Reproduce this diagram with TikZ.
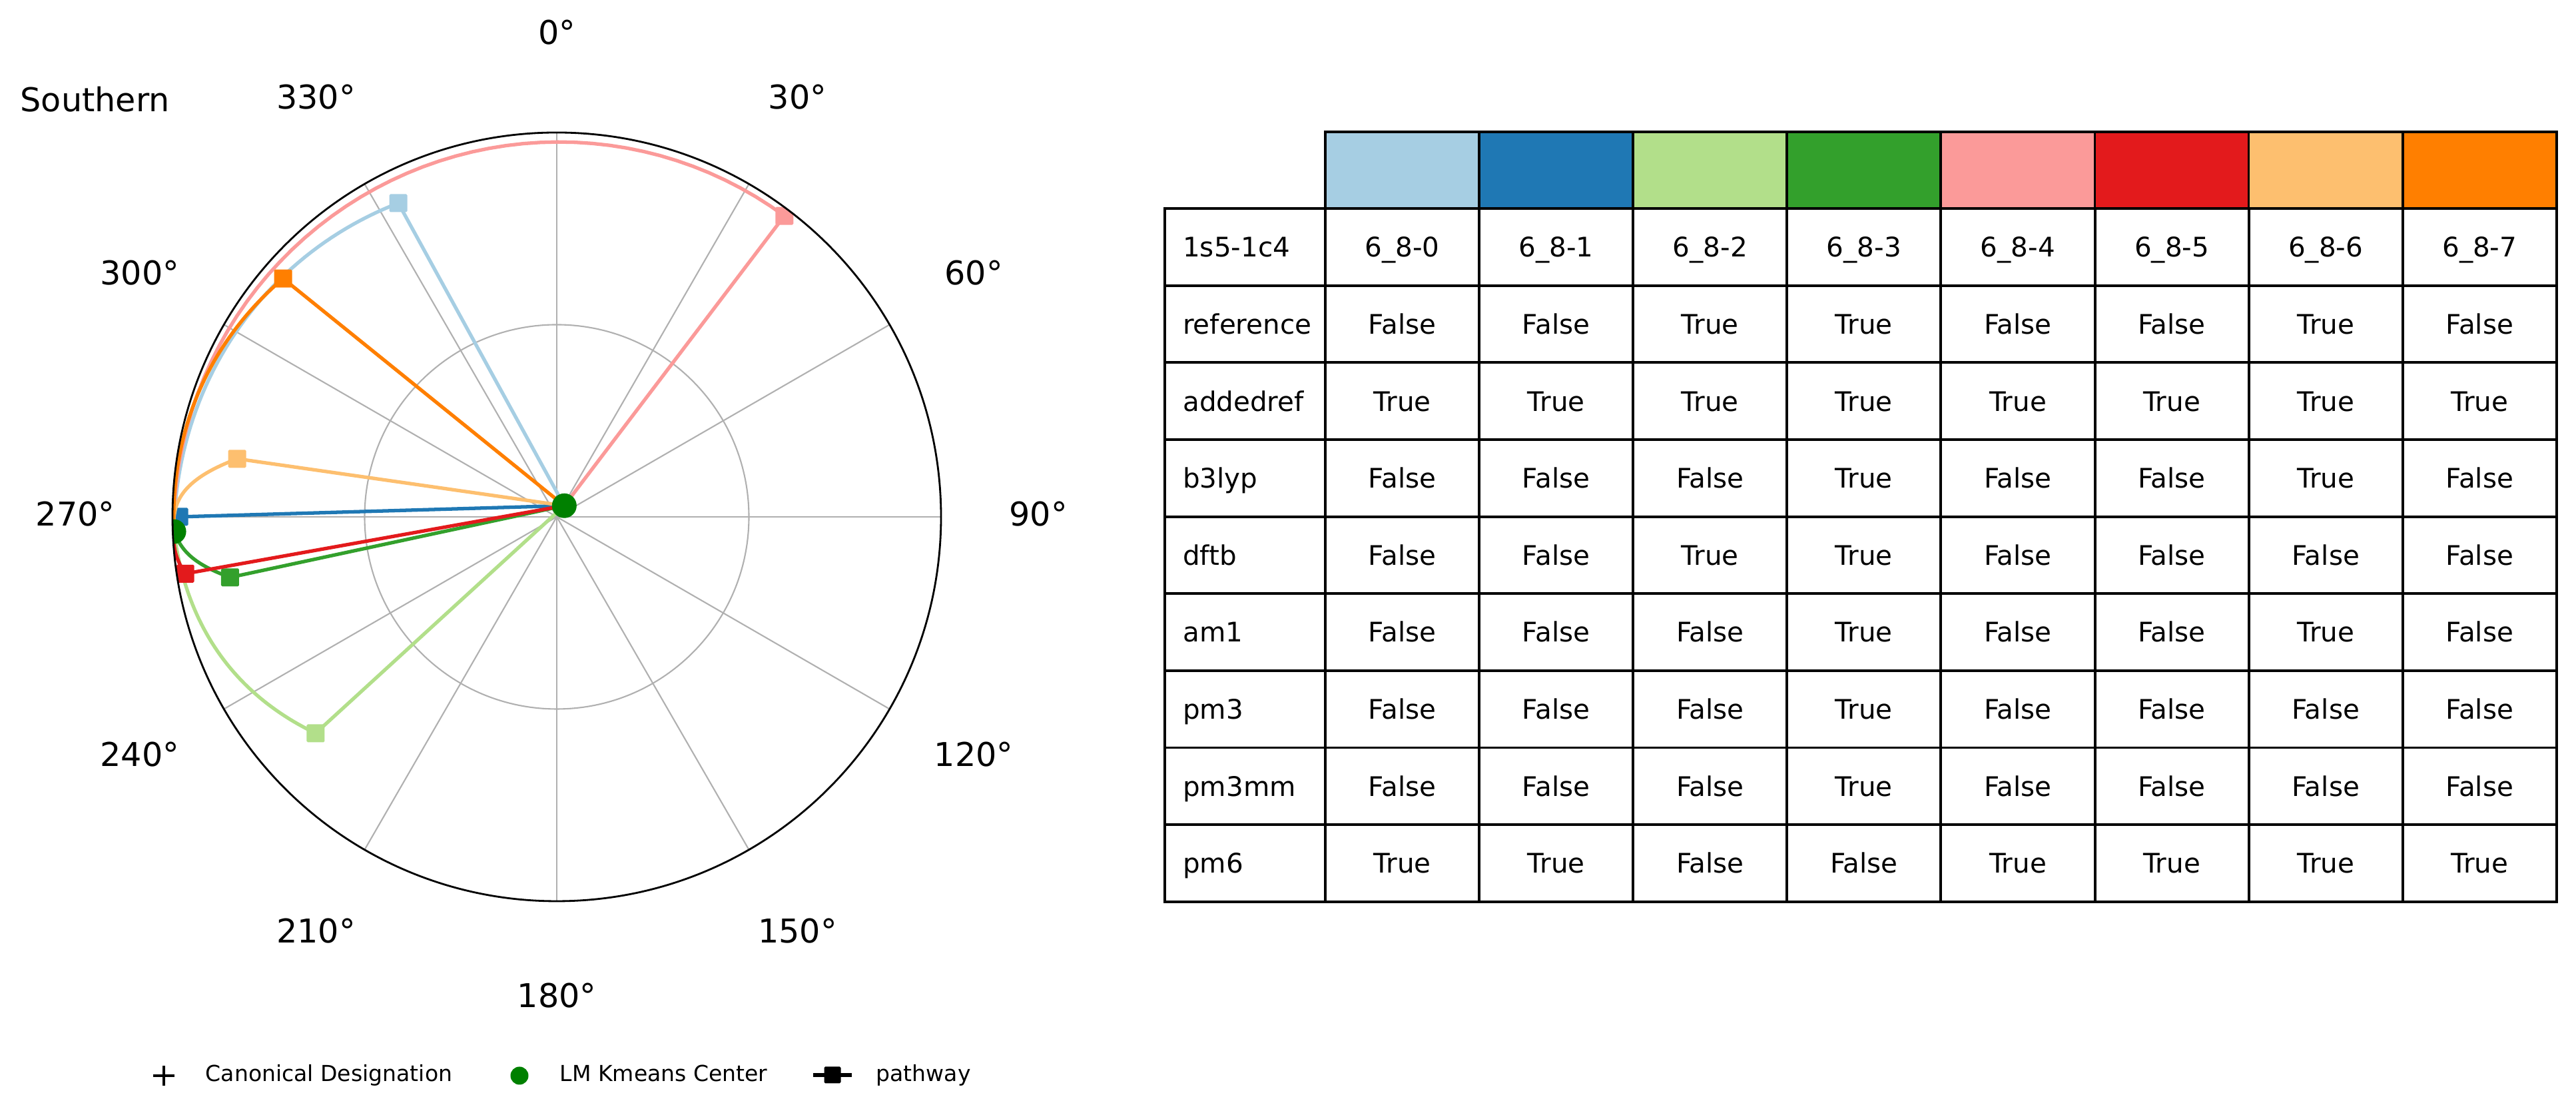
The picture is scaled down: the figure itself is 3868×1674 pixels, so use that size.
\documentclass[tikz,border=0pt]{standalone}
\usepackage{fontspec}
\setmainfont{DejaVu Sans}
\definecolor{pal0}{HTML}{A6CEE3}
\definecolor{pal1}{HTML}{1F78B4}
\definecolor{pal2}{HTML}{B2DF8A}
\definecolor{pal3}{HTML}{33A02C}
\definecolor{pal4}{HTML}{FB9A99}
\definecolor{pal5}{HTML}{E31A1C}
\definecolor{pal6}{HTML}{FDBF6F}
\definecolor{pal7}{HTML}{FF7F00}
\definecolor{lmgreen}{HTML}{008000}
\definecolor{gridgray}{HTML}{B0B0B0}
\tikzset{
  pw/.style={line width=1.5pt, line join=round},
  tsmark/.style={rectangle, inner sep=0pt, minimum size=0.27cm, rounded corners=0.5pt},
  lmdot/.style={circle, fill=lmgreen, inner sep=0pt, minimum size=0.37cm},
  ticklbl/.style={font=\fontsize{14}{17}\selectfont, text height=10.2pt, text depth=0pt, inner sep=0pt, yshift=0.045cm},
  cellbox/.style={draw, line width=1.1pt, minimum width=2.311cm, minimum height=1.156cm, inner sep=0pt},
  celltext/.style={font=\fontsize{11.5}{14}\selectfont, text height=8.4pt, text depth=0pt},
  lgtext/.style={font=\fontsize{9.4}{11}\selectfont, text height=6.85pt, text depth=0pt, inner sep=0pt, anchor=west}
}
\begin{document}
\begin{tikzpicture}[x=0.01cm, y=0.01cm]
    \useasboundingbox (0,0) rectangle (3868,1674);
    \begin{scope}[shift={(836,898)}]
        \foreach \ang in {0,30,...,330}
            \draw[gridgray, line width=0.6pt] (0,0) -- (90-\ang:577);
        \draw[gridgray, line width=0.6pt] (0,0) circle (288.5);
        \coordinate (lm1) at (90-267.8:575.4);
        \coordinate (lm2) at (90-34.1:20.2);
        \begin{scope}
            \clip (0,0) circle (577);
            \foreach \ta/\ra/\bulge [count=\i from 0] in {333.2/527.7/4, 270/567/0, 228.1/486.5/16, 259.5/498.9/14, 397.1/566.6/-8, 261.3/564.4/5, 280.3/487.8/28, 311.05/545/9} {
                \coordinate (ts\i) at (90-\ta:\ra);
                \draw[pw, pal\i] plot[domain=0:1, samples=50, variable=\t] ({90-\ta-(267.8-\ta)*\t}:{\ra+(575.4-\ra)*\t+(\bulge)*sin(180*\t)});
                \draw[pw, pal\i] (ts\i) -- (lm2);
                \node[tsmark, fill=pal\i] (m\i) at (ts\i) {};
            }
            \node[lmdot] (dot1) at (lm1) {};
            \node[lmdot] (dot2) at (lm2) {};
        \end{scope}
        \draw[line width=0.8pt] (0,0) circle (577);
        \foreach \ang in {0,30,...,330}
            \node[ticklbl] (t\ang) at (90-\ang:723) {\ang°};
    \end{scope}
    \node[font=\fontsize{14}{17}\selectfont, anchor=base west, inner sep=0pt] (title) at (30,1506.5) {Southern};

    \coordinate (lgplus) at (246,59);
    \draw[line width=1.4pt] ([xshift=-0.16cm]lgplus) -- ([xshift=0.16cm]lgplus);
    \draw[line width=1.4pt] ([yshift=-0.15cm]lgplus) -- ([yshift=0.15cm]lgplus);
    \node[lgtext] (lgt1) at (308,62.3) {Canonical Designation};
    \node[lmdot, minimum size=0.27cm] (lgdot) at (780,59) {};
    \node[lgtext] (lgt2) at (840,62.3) {LM Kmeans Center};
    \coordinate (lgpw) at (1250,60);
    \draw[pw, black] ([xshift=-0.29cm]lgpw) -- ([xshift=0.29cm]lgpw);
    \node[tsmark, fill=black, minimum size=0.25cm] (lgm) at (lgpw) {};
    \node[lgtext] (lgt3) at (1315,62.3) {pathway};

    \foreach \j in {0,...,7} {
        \node[cellbox, fill=pal\j] (h\j) at (2105.55+\j*231.1, 1418.5) {};
        \node[cellbox, celltext] (c0-\j) at (2105.55+\j*231.1, 1302.9) {6\_8-\j};
    }
    \foreach \vals [count=\k] in {{False,False,True,True,False,False,True,False},
                                  {True,True,True,True,True,True,True,True},
                                  {False,False,False,True,False,False,True,False},
                                  {False,False,True,True,False,False,False,False},
                                  {False,False,False,True,False,False,True,False},
                                  {False,False,False,True,False,False,False,False},
                                  {False,False,False,True,False,False,False,False},
                                  {True,True,False,False,True,True,True,True}} {
        \foreach \v [count=\j from 0] in \vals
            \node[cellbox, celltext] (c\k-\j) at (2105.55+\j*231.1, 1302.9-\k*115.6) {\v};
    }
    \foreach \lbl [count=\k from 0] in {1s5-1c4, reference, addedref, b3lyp, dftb, am1, pm3, pm3mm, pm6} {
        \node[cellbox, minimum width=2.41cm] (r\k) at (1869.5, 1302.9-\k*115.6) {};
        \node[celltext, inner sep=0pt, anchor=west] (l\k) at (1775.5, 1302.9-\k*115.6) {\lbl};
    }
\end{tikzpicture}
\end{document}
